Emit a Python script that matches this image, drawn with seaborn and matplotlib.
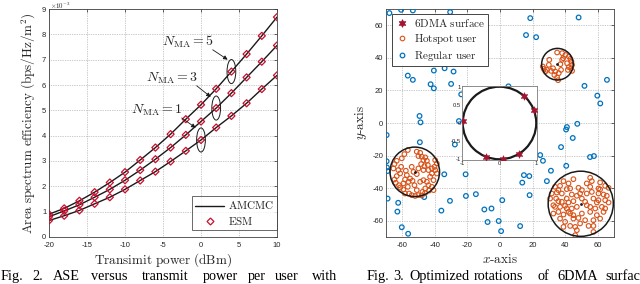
import numpy as np
import pandas as pd
import matplotlib
matplotlib.use("Agg")
import matplotlib.pyplot as plt
from matplotlib.patches import Ellipse, Circle
from matplotlib.lines import Line2D
import seaborn as sns

# ---------------- data: Fig. 2 ----------------
power = [-20, -18, -16, -14, -12, -10, -8, -6, -4, -2, 0, 2, 4, 6, 8, 10]
ase_n1 = [0.65, 0.84, 1.05, 1.31, 1.57, 1.88, 2.23, 2.58, 2.98, 3.40, 3.83, 4.32, 4.78, 5.28, 5.84, 6.38]
ase_n3 = [0.80, 1.03, 1.27, 1.57, 1.88, 2.24, 2.64, 3.07, 3.53, 4.03, 4.56, 5.09, 5.68, 6.30, 6.92, 7.56]
ase_n5 = [0.90, 1.13, 1.43, 1.77, 2.15, 2.56, 3.04, 3.53, 4.06, 4.65, 5.22, 5.85, 6.53, 7.22, 7.94, 8.68]
n_labels = [r"$N_{\rm MA}=1$", r"$N_{\rm MA}=3$", r"$N_{\rm MA}=5$"]
ellipse_x = [0, 2, 4]
ellipse_y = [3.83, 5.09, 6.53]
label_xy = [(-5.83, 5.02), (-3.86, 6.28), (-1.75, 7.71)]
arrow_from = [(-2.54, 4.70), (-0.57, 5.97), (1.54, 7.39)]
arrow_to = [(-0.70, 4.31), (1.28, 5.53), (3.51, 7.00)]

# ---------------- data: Fig. 3 ----------------
regular_x = [-67.9, -60.7, -53.5, -30.6, -56.6, -53.5, -40.6, -34.0, -28.5, -42.6, -40.6, -30.0, -23.8,
             -49.4, -48.8, -25.2, -69.6, -49.2, -27.7, 5.2, 18.6, 16.0, 22.2, 48.3, 65.7, 51.9, 59.8,
             61.6, 47.5, 41.1, 40.6, 44.7, 37.5, -69.6, -69.4, -69.0, -34.2, -21.1, -69.0, -62.5, -63.0,
             -46.5, -30.7, -20.9, -14.8, -36.0, -9.6, -5.2, -7.6, -0.8, 1.4, 0.7, -60.3, -56.4, 24.7,
             26.4, 55.3, 57.7, 40.7, 31.3, 14.7, 18.0, 13.7, 28.8, 18.2, 12.4]
regular_y = [67.5, 69.5, 69.1, 68.1, 29.1, 26.5, 32.2, 33.6, 31.6, 23.8, 21.3, 24.0, 17.6,
             4.3, 0.4, 1.2, -7.4, -11.8, -13.2, 22.5, 64.4, 54.0, 52.7, 64.8, 26.5, 22.8, 16.8,
             12.0, -0.5, -2.5, -4.0, -9.2, -14.8, -23.5, -27.3, -29.5, -31.5, -31.5, -46.4, -49.0, -54.4,
             -45.5, -47.8, -44.8, -43.7, -53.8, -53.1, -52.5, -60.8, -60.2, -47.4, -66.4, -64.0, -68.0, -19.7,
             -23.2, -20.9, -20.3, -26.3, -29.3, -32.0, -32.6, -36.6, -35.7, -44.3, -63.3]

hot_a_x = [35.1, 38.2, 40.2, 42.3, 43.3, 43.9, 44.3, 43.7, 44.3, 42.3, 41.2, 38.2, 37.1, 37.5, 36.1,
           34.0, 32.6, 30.3, 30.0, 26.3, 28.9, 31.4, 27.9, 33.4, 35.1, 35.7, 38.8, 41.7, 26.9]
hot_a_y = [43.3, 42.9, 41.8, 40.8, 39.4, 37.7, 35.7, 33.6, 32.0, 34.3, 36.7, 38.8, 36.1, 32.6, 30.6,
           31.6, 33.6, 38.8, 35.7, 34.7, 32.6, 32.0, 31.6, 29.5, 27.9, 26.3, 39.8, 32.6, 33.2]

hot_b_x = [-58.7, -60.3, -63.4, -64.8, -65.4, -62.4, -61.3, -63.4, -64.8, -64.0, -62.0, -59.3, -58.3,
           -57.2, -57.8, -60.7, -54.2, -53.1, -51.1, -55.2, -56.2, -56.6, -59.3, -61.3, -58.3, -55.8,
           -54.2, -52.1, -50.1, -51.1, -52.5, -53.7, -49.0, -47.0, -44.9, -43.9, -45.9, -47.6, -41.8,
           -40.8, -43.5, -46.0, -48.0, -50.1, -48.0, -47.0, -45.9, -44.9, -44.3, -46.4, -48.4, -50.1,
           -47.0, -43.9, -41.8, -39.8, -40.2, -41.8, -42.9, -40.8, -38.8, -51.1, -49.0, -39.8, -38.8, -56.6]
hot_b_y = [-19.1, -21.7, -23.2, -25.2, -27.9, -28.9, -31.0, -32.6, -34.7, -36.7, -38.2, -37.1, -34.7,
           -32.0, -29.3, -26.9, -26.9, -30.0, -31.4, -34.1, -36.1, -39.2, -40.8, -39.6, -43.3, -43.3,
           -44.3, -44.8, -44.3, -41.2, -38.2, -35.5, -36.1, -35.1, -36.1, -38.2, -40.2, -42.3, -39.2,
           -41.2, -41.5, -43.0, -44.5, -20.3, -20.7, -22.8, -21.1, -23.2, -25.8, -26.5, -25.2, -27.9,
           -28.9, -28.9, -27.9, -28.9, -26.9, -31.0, -33.0, -35.1, -31.0, -17.6, -18.3, -22.8, -24.8, -16.6]

hot_c_x = [39.0, 45.1, 55.4, 56.4, 61.5, 33.8, 36.9, 35.9, 41.0, 43.1, 48.2, 50.3, 55.4, 60.5, 61.5,
           64.6, 66.7, 31.8, 34.9, 38.0, 44.1, 47.2, 53.3, 56.4, 60.5, 63.6, 65.6, 30.8, 34.5, 35.9,
           41.0, 42.1, 45.1, 50.3, 52.3, 57.4, 60.5, 64.6, 66.7, 32.8, 33.8, 36.9, 40.0, 44.1, 47.2,
           55.4, 58.5, 62.6, 64.6, 32.8, 35.9, 39.0, 42.1, 45.1, 50.3, 55.4, 59.5, 36.9, 40.0, 45.1,
           48.2, 52.3, 57.4, 61.5, 39.0, 43.1, 46.2, 47.2, 54.4, 57.4, 46.2, 57.4, 42.1, 53.3, 38.0,
           49.2, 53.3, 43.1, 63.6, 59.5, 41.0, 49.2]
hot_c_y = [-35.7, -34.5, -33.6, -35.7, -36.5, -39.2, -38.6, -41.2, -40.6, -40.2, -39.8, -41.2, -39.2,
           -40.2, -40.8, -38.6, -39.8, -43.3, -42.7, -43.3, -43.9, -44.7, -43.3, -42.3, -43.3, -43.9,
           -44.7, -46.4, -46.4, -48.0, -46.4, -48.8, -48.0, -46.4, -48.4, -46.4, -47.4, -47.4, -48.8,
           -50.5, -51.5, -51.5, -50.9, -52.5, -51.5, -51.5, -52.5, -51.5, -52.5, -55.6, -54.6, -56.2,
           -54.6, -56.6, -55.6, -54.6, -56.6, -58.7, -60.7, -58.7, -58.3, -59.7, -59.7, -58.7, -63.8,
           -63.2, -63.8, -65.8, -63.2, -63.2, -68.9, -66.9, -37.1, -37.1, -48.4, -43.3, -50.5, -55.6,
           -54.6, -48.8, -52.5, -61.7]

hotspot_cx = [35.3, -52.3, 49.6]
hotspot_cy = [36.1, -30.0, -49.6]
hotspot_r = [9.7, 15.2, 20.0]

surface_x = [0.66, 0.93, -1.00, -0.36, 0.09, 0.53]
surface_y = [0.75, 0.36, 0.05, -0.93, -1.00, -0.85]

# ---------------- styling ----------------
sns.set_theme(style="white")
plt.rcParams.update({
    "font.family": ["Liberation Sans", "DejaVu Sans"],
    "mathtext.fontset": "cm",
    "axes.unicode_minus": False,
})

RED = "#C8102E"
ORANGE = "#D95319"
BLUE = "#0072BD"
STAR = "#A2142F"
SPINE = "#404040"

fig = plt.figure(figsize=(6.4, 2.84), dpi=100)


def style_axes(ax):
    for s in ax.spines.values():
        s.set_color(SPINE)
        s.set_linewidth(0.6)
    ax.tick_params(direction="in", length=2.5, width=0.5, labelsize=5.5,
                   colors="#262626", top=True, right=True, pad=2)
    ax.tick_params(axis="x", pad=3.5)
    ax.grid(True, linestyle=(0, (1, 1.5)), color="#9a9a9a", linewidth=0.5)
    ax.set_axisbelow(True)


# ================= Fig. 2 =================
ax1 = fig.add_axes([0.0766, 0.1655, 0.3562, 0.8028])
df2 = pd.DataFrame({
    "power": power * 3,
    "ase": ase_n1 + ase_n3 + ase_n5,
    "N": ["1"] * len(power) + ["3"] * len(power) + ["5"] * len(power),
})
sns.lineplot(data=df2, x="power", y="ase", units="N", estimator=None, color="k",
             linewidth=1.0, ax=ax1, legend=False)
sns.scatterplot(data=df2, x="power", y="ase", marker="D", s=13, color=RED, edgecolor=RED,
                facecolors="none", linewidths=0.9, ax=ax1, legend=False, zorder=3)
ax1.set_xlim(-20, 10)
ax1.set_ylim(0, 9)
ax1.set_xticks([-20, -15, -10, -5, 0, 5, 10])
ax1.set_yticks(range(0, 10))
style_axes(ax1)
ax1.set_xlabel(r"$\mathrm{Transimit\ power\ (dBm)}$", fontsize=9.5, va="top")
ax1.set_ylabel(r"$\mathrm{Area\ spectrum\ efficiency\ (bps/Hz/m^2)}$", fontsize=9.5)
ax1.xaxis.set_label_coords(0.5, -0.064)
ax1.yaxis.set_label_coords(-0.05, 0.5)
fig.text(50 / 640, 1 - 6 / 284, r"$\times10^{-3}$", fontsize=5, va="center", ha="left",
         color="#262626")

for (ex, ey, lab, lxy, af, at) in zip(ellipse_x, ellipse_y, n_labels, label_xy, arrow_from, arrow_to):
    ax1.add_patch(Ellipse((ex, ey), width=1.15, height=0.95, fill=False, ec="k", lw=0.7, zorder=4))
    ax1.text(lxy[0], lxy[1], lab, fontsize=10, ha="center", va="center")
    ax1.annotate("", xy=at, xytext=af,
                 arrowprops=dict(arrowstyle="-|>", color="k", lw=0.6, mutation_scale=6,
                                 shrinkA=0, shrinkB=0))

h1 = [Line2D([], [], color="k", lw=1.0),
      Line2D([], [], color=RED, marker="D", ls="none", ms=3.5, mfc="none", mew=0.9)]
leg1 = ax1.legend(h1, [r"$\mathrm{AMCMC}$", r"$\mathrm{ESM}$"], loc="lower right",
                  bbox_to_anchor=(1.0, 0.03), borderaxespad=0, fontsize=8, frameon=True,
                  fancybox=False, edgecolor="#262626", handlelength=2.6, handletextpad=0.3,
                  borderpad=0.3, labelspacing=0.3)
leg1.get_frame().set_linewidth(0.6)

# ================= Fig. 3 =================
ax2 = fig.add_axes([0.6031, 0.1655, 0.3562, 0.8028])
df_reg = pd.DataFrame({"x": regular_x, "y": regular_y})
df_hot = pd.DataFrame({"x": hot_a_x + hot_b_x + hot_c_x, "y": hot_a_y + hot_b_y + hot_c_y})
sns.scatterplot(data=df_reg, x="x", y="y", marker="o", s=11, color=BLUE, edgecolor=BLUE,
                facecolors="none", linewidths=0.9, ax=ax2, legend=False, zorder=3)
sns.scatterplot(data=df_hot, x="x", y="y", marker="o", s=11, color=ORANGE, edgecolor=ORANGE,
                facecolors="none", linewidths=0.8, ax=ax2, legend=False, zorder=3)
for cx, cy, r in zip(hotspot_cx, hotspot_cy, hotspot_r):
    ax2.add_patch(Circle((cx, cy), r, fill=False, ec="k", lw=1.1, zorder=4))
sns.scatterplot(x=hotspot_cx, y=hotspot_cy, marker="o", s=4, color="k", edgecolor="k",
                ax=ax2, legend=False, zorder=5, linewidths=0)
ax2.set_xlim(-70, 70)
ax2.set_ylim(-70, 70)
ax2.set_xticks(range(-60, 61, 20))
ax2.set_yticks(range(-60, 61, 20))
style_axes(ax2)
ax2.set_xlabel(r"$x\mathrm{\text{-}axis}$", fontsize=9.5, va="top")
ax2.set_ylabel(r"$y\mathrm{\text{-}axis}$", fontsize=9.5)
ax2.xaxis.set_label_coords(0.5, -0.069)
ax2.yaxis.set_label_coords(-0.075, 0.5)

h2 = [Line2D([], [], color=STAR, marker=(6, 1, 0), ls="none", ms=5.5, mew=0.6),
      Line2D([], [], color=ORANGE, marker="o", ls="none", ms=3.3, mfc="none", mew=0.8),
      Line2D([], [], color=BLUE, marker="o", ls="none", ms=3.3, mfc="none", mew=0.9)]
leg2 = ax2.legend(h2, [r"$\mathrm{6DMA\ surface}$", r"$\mathrm{Hotspot\ user}$",
                       r"$\mathrm{Regular\ user}$"],
                  loc="upper left", bbox_to_anchor=(0.025, 0.978), borderaxespad=0, fontsize=8,
                  frameon=True, fancybox=False, edgecolor="#262626", handlelength=1.2,
                  handletextpad=0.5, borderpad=0.3, labelspacing=0.25, framealpha=1)
leg2.get_frame().set_linewidth(0.6)

# inset
axi = fig.add_axes([462 / 640, 1 - 160 / 284, 75 / 640, 74 / 284])
axi.set_facecolor("white")
axi.add_patch(Circle((0, 0), 1.0, fill=False, ec="k", lw=1.6, zorder=2))
sns.scatterplot(x=surface_x, y=surface_y, marker=(6, 1, 0), s=30, color=STAR, ax=axi,
                legend=False, zorder=3, linewidths=0.4, edgecolor=STAR)
axi.set_xlim(-1.02, 1.02)
axi.set_ylim(-1.02, 1.02)
axi.set_xticks([-1, 0, 1])
axi.set_yticks([-1, -0.5, 0, 0.5, 1])
axi.set_yticklabels(["-1", "-0.5", "0", "0.5", "1"])
for s in axi.spines.values():
    s.set_color("#7a7a7a")
    s.set_linewidth(0.6)
axi.tick_params(direction="in", length=1.5, width=0.4, labelsize=4.2, colors="#262626", pad=1)
axi.set_xlabel("")
axi.set_ylabel("")

# ---------------- captions ----------------
cap_y = 1 - 280 / 284
cap_kw = dict(fontsize=10.3, family=["Liberation Serif", "DejaVu Serif"], va="baseline",
              ha="left", color="black")
for word, px in [("Fig.", 1), ("2.", 32), ("ASE", 53), ("versus", 91), ("transmit", 142),
                 ("power", 203), ("per", 248), ("user", 275), ("with", 312),
                 ("Fig.", 367), ("3.", 393), ("Optimized", 409), ("rotations", 474), ("of", 538),
                 ("6DMA", 557), ("surface", 605)]:
    fig.text(px / 640, cap_y, word, **cap_kw)

fig.savefig("out.png", dpi=100)
